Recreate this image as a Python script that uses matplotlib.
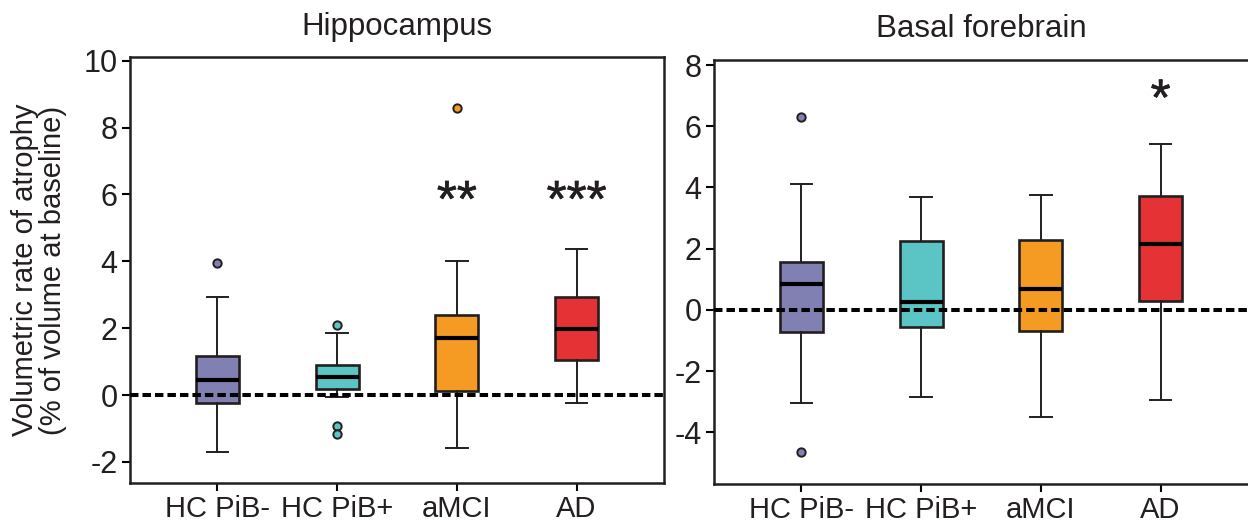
import matplotlib
matplotlib.use("Agg")
import matplotlib.pyplot as plt
import matplotlib.patheffects as pe

plt.rcParams['font.family'] = ['Liberation Sans', 'DejaVu Sans']

groups = ["HC PiB-", "HC PiB+", "aMCI", "AD"]
colors = ["#8080b3", "#5bc5c6", "#f59a23", "#e53335"]

# Hippocampus: whislo, q1, median, q3, whishi
hip_whislo = [-1.70, -0.05, -1.57, -0.23]
hip_q1 = [-0.25, 0.18, 0.13, 1.04]
hip_med = [0.45, 0.53, 1.71, 1.97]
hip_q3 = [1.18, 0.91, 2.40, 2.93]
hip_whishi = [2.92, 1.87, 4.02, 4.36]
hip_fliers = [[3.94], [2.10, -0.93, -1.15], [8.58], []]
hip_sig = ["", "", "**", "***"]
hip_sig_y = 6.06

# Basal forebrain
bf_whislo = [-3.03, -2.85, -3.51, -2.94]
bf_q1 = [-0.71, -0.56, -0.69, 0.29]
bf_med = [0.84, 0.26, 0.69, 2.14]
bf_q3 = [1.56, 2.25, 2.28, 3.73]
bf_whishi = [4.11, 3.69, 3.75, 5.43]
bf_fliers = [[6.31, -4.65], [], [], []]
bf_sig = ["", "", "", "*"]
bf_sig_y = 7.15

titles = ["Hippocampus", "Basal forebrain"]
ylabel = "Volumetric rate of atrophy\n(% of volume at baseline)"

W, H = 1248, 524
fig = plt.figure(figsize=(W / 100, H / 100), dpi=100)
ax1 = fig.add_axes([130 / W, (H - 482.7) / H, 534 / W, 425.4 / H])
ax2 = fig.add_axes([714 / W, (H - 484) / H, 534 / W, 424.5 / H])

dark = "#231f20"
FS = 21


def draw(ax, whislo, q1, med, q3, whishi, fliers, sig, sig_y, ylim, yticks, title):
    stats = []
    for i in range(len(groups)):
        stats.append(dict(whislo=whislo[i], q1=q1[i], med=med[i], q3=q3[i],
                          whishi=whishi[i], fliers=fliers[i], label=groups[i]))
    pos = list(range(1, len(groups) + 1))
    bp = ax.bxp(stats, positions=pos, widths=0.36, capwidths=0.18,
                patch_artist=True, showfliers=True,
                boxprops=dict(linewidth=1.9, edgecolor=dark),
                whiskerprops=dict(linewidth=1.4, color=dark),
                capprops=dict(linewidth=1.4, color=dark),
                medianprops=dict(linewidth=3.0, color="black"),
                flierprops=dict(marker="o", markersize=6, markeredgewidth=1.4,
                                markeredgecolor=dark))
    for patch, c in zip(bp["boxes"], colors):
        patch.set_facecolor(c)
    for fl, c in zip(bp["fliers"], colors):
        fl.set_markerfacecolor(c)
    line = ax.axhline(0, color="black", linewidth=2.9, zorder=5)
    line.set_dashes([2.1, 1.0])
    for p, s in zip(pos, sig):
        if s:
            ax.annotate(s, (p, sig_y), xytext=(0, -7.5), textcoords="offset points",
                        ha="center", va="center", fontsize=37,
                        color=dark, zorder=6,
                        path_effects=[pe.withStroke(linewidth=0.45, foreground=dark)])
    ax.set_xlim(0.27, 4.73)
    ax.set_ylim(*ylim)
    ax.set_yticks(yticks)
    ax.set_yticklabels([str(t) for t in yticks])
    ax.set_xticks(pos)
    ax.set_xticklabels(groups)
    ax.tick_params(axis="both", labelsize=FS, length=6, width=1.5,
                   colors="black", labelcolor=dark, pad=3)
    ax.tick_params(axis="y", labelsize=22)
    for sp in ax.spines.values():
        sp.set_linewidth(1.8)
        sp.set_color(dark)
    ax.set_title(title, fontsize=22.5, color=dark, pad=16)


draw(ax1, hip_whislo, hip_q1, hip_med, hip_q3, hip_whishi, hip_fliers,
     hip_sig, hip_sig_y, (-2.62, 10.1), [-2, 0, 2, 4, 6, 8, 10], titles[0])
draw(ax2, bf_whislo, bf_q1, bf_med, bf_q3, bf_whishi, bf_fliers,
     bf_sig, bf_sig_y, (-5.69, 8.18), [-4, -2, 0, 2, 4, 6, 8], titles[1])
ax2.spines["right"].set_visible(False)

ax1.set_ylabel(ylabel, fontsize=21, color=dark, linespacing=1.0)
ax1.yaxis.set_label_coords(-0.118, 0.5)

fig.savefig("out.png", dpi=100)
